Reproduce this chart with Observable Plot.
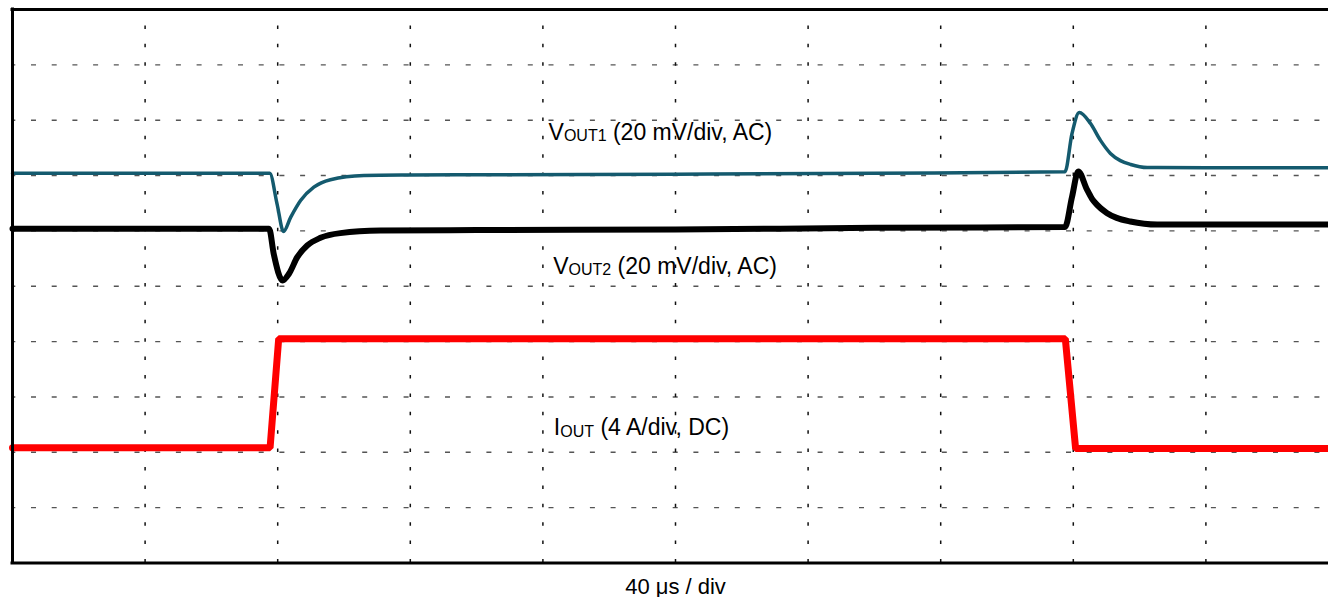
<!DOCTYPE html>
<html>
<head>
<meta charset="utf-8">
<script src="https://cdn.jsdelivr.net/npm/d3@7"></script>
<script src="https://cdn.jsdelivr.net/npm/@observablehq/plot@0.6"></script>
<style>
  html, body { margin: 0; padding: 0; overflow: hidden; background: #fff; }
</style>
</head>
<body>
<div id="chart"></div>
<script>
// ---- Data read from the scope capture (time in µs, 40 µs/div) ----
const timeV1 = [0, 77.6, 79.8, 81.75, 83.9, 86.9, 90.9, 95.9, 106, 120, 140, 200, 260,
                317.5, 319.6, 321.8, 325.2, 328.2, 331.2, 334.2, 337.3, 342.3, 360, 400];
// VOUT1 deviation in mV (20 mV/div, AC)
const vout1mV = [0, 0, -11.0, -21.0, -15.9, -9.8, -5.0, -2.3, -0.8, -0.6, -0.5, -0.3, 0,
                 0.6, 14.3, 22.0, 18.0, 11.9, 7.2, 4.6, 3.2, 2.1, 2.0, 2.0];

const timeV2 = [0, 77.4, 78.8, 81.5, 83.4, 85.9, 88.9, 92.9, 98.9, 111, 140, 200, 260,
                317.5, 319.6, 321.5, 324.1, 325.6, 327.1, 330.1, 333.1, 337.2, 345.3, 400];
// VOUT2 deviation in mV (20 mV/div, AC)
const vout2mV = [0, 0, -9.1, -18.7, -16.3, -10.3, -6.1, -3.3, -1.6, -0.7, -0.5, -0.3, 0.3,
                 0.6, 11.4, 20.7, 14.2, 10.9, 8.7, 5.7, 3.9, 2.6, 1.5, 1.5];

const timeI = [0, 77.7, 80.3, 317.6, 320.7, 400];
// IOUT in A (4 A/div, DC)
const ioutA = [0.33, 0.33, 8.2, 8.2, 0.27, 0.27];

// Grid positions
const gridTimeUs = [40, 80, 120, 160, 200, 240, 280, 320, 360];
const gridDiv = [1, 2, 3, 4, 5, 6, 7, 8, 9];

// Labels: main letter, subscript, rest; placed at (time µs, divisions)
const labelMain = ["V", "V", "I"];
const labelSub = ["OUT1", "OUT2", "OUT"];
const labelRest = [" (20 mV/div, AC)", " (20 mV/div, AC)", " (4 A/div, DC)"];
const labelTime = [161.7, 163.1, 163.3];
const labelDiv = [7.646, 5.225, 2.304];
const xAxisLabel = "40 μs / div";

// Channel scaling: screen offset (div) and mV / A per div
const V1_OFFSET = 7.04, V1_PER_DIV = 20;
const V2_OFFSET = 6.04, V2_PER_DIV = 20;
const I_OFFSET = 2.0, I_PER_DIV = 4;

const vout1 = timeV1.map((t, i) => ({t, v: vout1mV[i]}));
const vout2 = timeV2.map((t, i) => ({t, v: vout2mV[i]}));
const iout = timeI.map((t, i) => ({t, v: ioutA[i]}));
const labels = labelMain.map((m, i) => ({t: labelTime[i], d: labelDiv[i], text: m + "|" + labelSub[i] + "|" + labelRest[i]}));

const font = "'Liberation Sans', Arial, Helvetica, sans-serif";

const svg = Plot.plot({
  width: 1328,
  height: 597,
  marginLeft: 12, marginRight: 0, marginTop: 9, marginBottom: 34.5,
  x: {domain: [0, 400], range: [12, 1338], axis: null},
  y: {domain: [0, 10], range: [562.5, 9], axis: null},
  style: {background: "#fff", overflow: "hidden", fontFamily: font},
  marks: [
    Plot.ruleY(gridDiv, {x1: 0, x2: 400, stroke: "#555", strokeWidth: 1.4, strokeDasharray: "5,15.7", strokeDashoffset: -19}),
    Plot.ruleX(gridTimeUs, {y1: 0, y2: 10, stroke: "#111", strokeWidth: 1.5, strokeDasharray: "3.5,14.9"}),
    Plot.line(iout, {x: "t", y: d => I_OFFSET + d.v / I_PER_DIV, stroke: "#ff0000", strokeWidth: 7, strokeLinejoin: "miter"}),
    Plot.line(vout2, {x: "t", y: d => V2_OFFSET + d.v / V2_PER_DIV, stroke: "#000", strokeWidth: 6, curve: "monotone-x"}),
    Plot.line(vout1, {x: "t", y: d => V1_OFFSET + d.v / V1_PER_DIV, stroke: "#145a6e", strokeWidth: 3.5, curve: "monotone-x"}),
    Plot.ruleX([0], {y1: 0, y2: 10, stroke: "#000", strokeWidth: 3, strokeLinecap: "square"}),
    Plot.ruleY([0, 10], {x1: 0, x2: 400, stroke: "#000", strokeWidth: 3, strokeLinecap: "square"}),
    Plot.text(labels, {x: "t", y: "d", text: "text", textAnchor: "start", lineAnchor: "bottom", fontSize: 23, fill: "#000", fontFamily: font}),
    Plot.text([xAxisLabel], {x: 200, y: 0, dy: 30.5, text: d => d, textAnchor: "middle", lineAnchor: "bottom", fontSize: 22, fill: "#000", fontFamily: font})
  ]
});

// Rich text: subscripts
d3.select(svg).selectAll("text").each(function () {
  const s = this.textContent;
  if (!s.includes("|")) return;
  const parts = s.split("|");
  this.textContent = "";
  const sel = d3.select(this);
  sel.append("tspan").text(parts[0]);
  sel.append("tspan").attr("font-size", 16).attr("dy", 1.5).text(parts[1]);
  sel.append("tspan").attr("dy", -1.5).text(parts[2]);
});

document.getElementById("chart").appendChild(svg);
</script>
</body>
</html>
